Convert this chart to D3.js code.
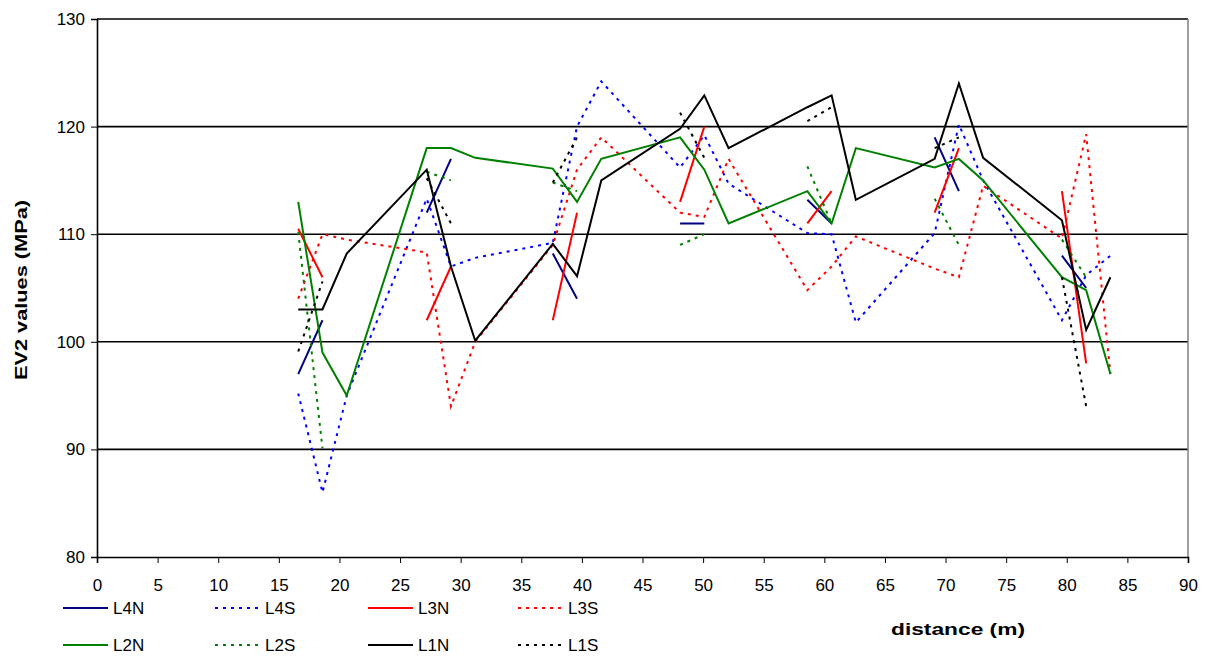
<!DOCTYPE html>
<html>
<head>
<meta charset="utf-8">
<script src="https://cdn.jsdelivr.net/npm/d3@7"></script>
<style>
  body { margin: 0; background: #fff; }
  text { font-family: "Liberation Sans", Arial, sans-serif; }
</style>
</head>
<body>
<div id="chart"></div>
<script>
// measurement positions along the line (m)
var distance = [16.6, 18.6, 20.6, 27.2, 29.2, 31.2, 37.6, 39.6, 41.6, 48.1, 50.1, 52.1,
                58.6, 60.6, 62.6, 69.1, 71.1, 73.1, 79.6, 81.6, 83.6];

// EV2 values per series (null = no measurement)
var L4N = [97, 102, null, 112, 117, null, 108.2, 104, null, 111, 111, null,
           113.2, 111, null, 119, 114, null, 108, 105, null];
var L4S = [95.2, 86, 95, 113.3, 107, 107.8, 109.2, 120, 124.2, 116.2, 119.2, 114.7,
           110.1, 110, 101.8, 110.1, 120.2, 115, 102, 106.2, 108];
var L3N = [110.5, 106, null, 102, 107, null, 102, 112, null, 113, 120, null,
           111, 114, null, 112, 118, null, 114, 98, null];
var L3S = [104, 110, 109.5, 108.3, 94, 100, 109, 116, 119, 112, 111.6, 117,
           104.8, 107, 109.8, 106.8, 106, 114.5, 109.6, 119.3, 97];
var L2N = [113, 99, 95, 118, 118, 117.1, 116.1, 113, 117, 119, 116, 111,
           114, 111, 118, 116.2, 117, 115, 106, 104.8, 97];
var L2S = [110.2, 90.1, null, 115.8, 115, null, 114.8, 114, null, 109, 110, null,
           116.3, 111, null, 113.3, 109, null, 109.5, 106, null];
var L1N = [103, 103, 108.2, 116, 107, 100.1, 109.1, 106.1, 115, 119.8, 122.9, 118,
           121.8, 122.9, 113.2, 117, 124, 117.1, 111.3, 101.1, 106];
var L1S = [99.1, 105.6, null, 115.2, 111, null, 114.8, 119, null, 121.3, 117.1, null,
           120.5, 121.8, null, 118, 119, null, 106, 94, null];

var xTicks = d3.range(0, 95, 5);
var yTicks = [80, 90, 100, 110, 120, 130];

var series = [ //name, values, colour, dotted?
  {name: "L4N", values: L4N, color: "#000080", dotted: false},
  {name: "L4S", values: L4S, color: "#0000ff", dotted: true},
  {name: "L3N", values: L3N, color: "#ff0000", dotted: false},
  {name: "L3S", values: L3S, color: "#ff0000", dotted: true},
  {name: "L2N", values: L2N, color: "#008000", dotted: false},
  {name: "L2S", values: L2S, color: "#008000", dotted: true},
  {name: "L1N", values: L1N, color: "#000000", dotted: false},
  {name: "L1S", values: L1S, color: "#000000", dotted: true}
];

var width = 1206;
var height = 658;
var plotLeft = 97, plotRight = 1188, plotTop = 19, plotBottom = 557;

var svg = d3.select("#chart").append("svg")
  .attr("width", width)
  .attr("height", height);

var x = d3.scaleLinear().domain([0, 90]).range([plotLeft, plotRight]);
var y = d3.scaleLinear().domain([80, 130]).range([plotBottom, plotTop]);

// gridlines
svg.append("g")
  .selectAll("line")
  .data(yTicks.slice(1))
  .enter().append("line")
  .attr("x1", plotLeft).attr("x2", plotRight)
  .attr("y1", function(d) { return y(d); })
  .attr("y2", function(d) { return y(d); })
  .attr("stroke", "#000")
  .attr("stroke-width", 1.6);

// right border of plot area
svg.append("line")
  .attr("x1", plotRight).attr("x2", plotRight)
  .attr("y1", plotTop).attr("y2", plotBottom)
  .attr("stroke", "#808080")
  .attr("stroke-width", 1.5);

// axes
var xAxis = svg.append("g")
  .attr("transform", "translate(0," + plotBottom + ")")
  .call(d3.axisBottom(x).tickValues(xTicks).tickSize(6).tickPadding(16));
var yAxis = svg.append("g")
  .attr("transform", "translate(" + plotLeft + ",0)")
  .call(d3.axisLeft(y).tickValues(yTicks).tickSize(6).tickPadding(6));

[xAxis, yAxis].forEach(function(ax) {
  ax.select(".domain").attr("stroke", "#000").attr("stroke-width", 1.6);
  ax.selectAll(".tick line").attr("stroke", "#000");
  ax.selectAll(".tick text")
    .attr("fill", "#000")
    .style("font-size", "17px")
    .style("font-family", "'Liberation Sans', Arial, sans-serif");
});

// lines
var line = d3.line()
  .defined(function(d) { return d.v != null; })
  .x(function(d) { return x(d.x); })
  .y(function(d) { return y(d.v); });

series.forEach(function(s) {
  var pts = distance.map(function(d, i) { return {x: d, v: s.values[i]}; });
  svg.append("path")
    .datum(pts)
    .attr("fill", "none")
    .attr("stroke", s.color)
    .attr("stroke-width", 2)
    .attr("stroke-dasharray", s.dotted ? "3,5" : null)
    .attr("d", line);
});

// axis titles
svg.append("text")
  .attr("transform", "translate(27,290) rotate(-90)")
  .attr("text-anchor", "middle")
  .attr("textLength", 180)
  .attr("lengthAdjust", "spacingAndGlyphs")
  .style("font-size", "16px")
  .style("font-weight", "bold")
  .text("EV2 values (MPa)");

svg.append("text")
  .attr("x", 958)
  .attr("y", 635)
  .attr("text-anchor", "middle")
  .attr("textLength", 134)
  .attr("lengthAdjust", "spacingAndGlyphs")
  .style("font-size", "17px")
  .style("font-weight", "bold")
  .text("distance (m)");

// legend, 4 per row
var legendX = [63, 215, 368, 518];
var legendY = [608, 645];
var legendLine = 45;

var legend = svg.selectAll(".legend")
  .data(series)
  .enter().append("g")
  .attr("class", "legend")
  .attr("transform", function(d, i) {
    return "translate(" + legendX[i % 4] + "," + legendY[Math.floor(i / 4)] + ")";
  });

legend.append("line")
  .attr("x1", 0).attr("x2", legendLine)
  .attr("y1", 0).attr("y2", 0)
  .attr("stroke", function(d) { return d.color; })
  .attr("stroke-width", 2)
  .attr("stroke-dasharray", function(d) { return d.dotted ? "3,5" : null; });

legend.append("text")
  .attr("x", legendLine + 5)
  .attr("y", 6)
  .style("font-size", "17px")
  .text(function(d) { return d.name; });
</script>
</body>
</html>
